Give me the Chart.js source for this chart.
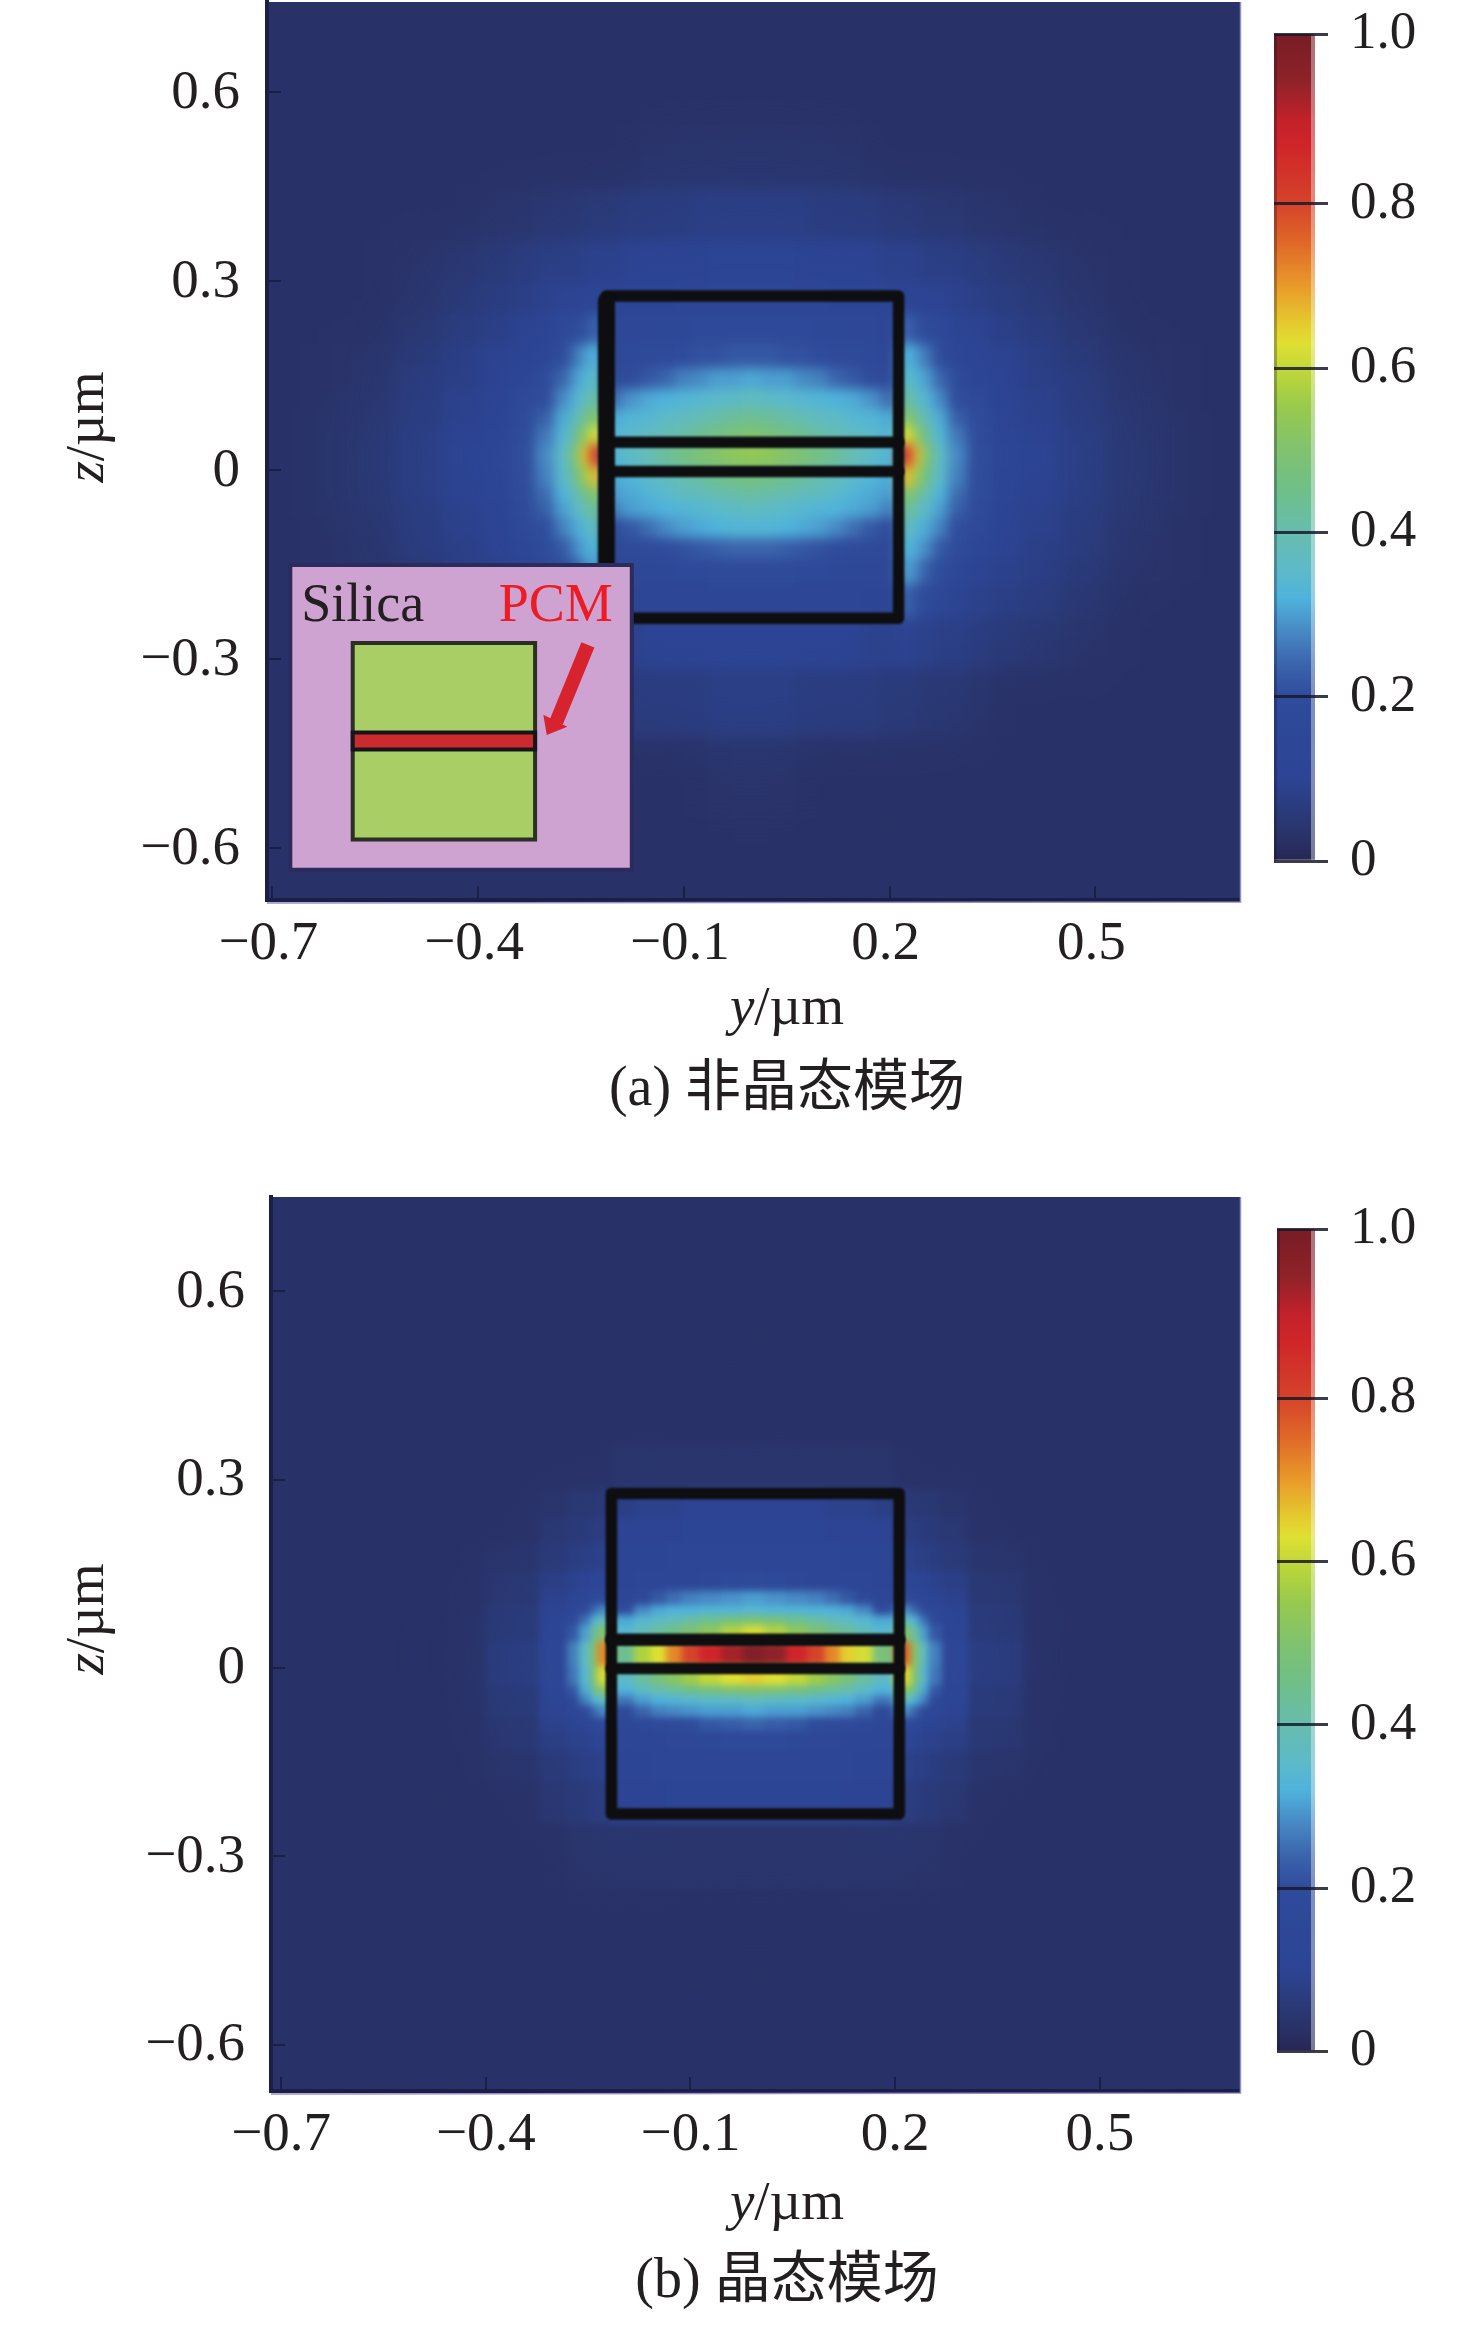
<!DOCTYPE html>
<html><head><meta charset="utf-8">
<style>html,body{margin:0;padding:0;background:#fff}#p{position:relative;width:1476px;height:2325px;overflow:hidden}canvas{position:absolute}</style>
<script src="https://cdn.jsdelivr.net/npm/chart.js@4/dist/chart.umd.js"></script>
</head><body><div id="p">
<canvas id="panelA" width="1476" height="1160" style="left:0;top:0"></canvas>
<canvas id="panelB" width="1476" height="1165" style="left:0;top:1160px"></canvas>
<canvas id="barA" width="235" height="900" style="left:1241px;top:0"></canvas>
<canvas id="barB" width="235" height="1165" style="left:1241px;top:1160px"></canvas>
</div>
<script>
// ---- tick labels ----
const yTicks=[-0.7,-0.4,-0.1,0.2,0.5];
const zTicks=[-0.6,-0.3,0,0.3,0.6];
const barTicks=[0,0.2,0.4,0.6,0.8,1.007];
// ---- colour bar ----
const barValues=[0,.02,.05,.1,.2,.24,.28,.32,.35,.4,.45,.5,.55,.58,.63,.65,.7,.75,.8,.87,.9,.95,1];
const barColors=['#262653','#292f62','#2a3873','#2c4493','#2f4b9b','#3b64ac','#4789c4','#4fb3dc','#5bb9cb','#67bdae','#6fbf8a','#80c26f','#97c94e','#b0d23f','#dfe032','#e4cf2f','#e99a2a','#e06a28','#d5432a','#cf2529','#c4222a','#8f2229','#7a1d25'];
// ---- panel (a): field in percent of maximum, rows top to bottom ----
const aY=[-.66,-.56,-.48,-.42,-.37,-.33,-.30,-.275,-.255,-.24,-.23,-.20,-.175,-.15,-.125,-.10,-.075,-.05,-.025,0,.025,.05,.075,.10,.125,.15,.175,.20,.23,.24,.255,.275,.30,.33,.37,.42,.48,.56,.66];
const aZ=[.71,.60,.49,.40,.32,.27,.22,.175,.143,.11,.08,.055,.02,-.015,-.04,-.063,-.095,-.127,-.16,-.206,-.27,-.365,-.49,-.62];
const a01=[3,3,3,3,3,3,3,3,3,3,3, 3,3,3,3,3,3,3,3,3,3,3,3,3,3,3,3,3, 3,3,3,3,3,3,3,3,3,3,3];
const a02=[3,3,3,3,3,3,3,3,3,3,3, 3,3,3,3,3,3,3,3,3,3,3,3,3,3,3,3,3, 3,3,3,3,3,3,3,3,3,3,3];
const a03=[3,3,3,3,3,3,3,3,3,3,3, 3,3,4,4,4,4,4,4,4,4,4,4,4,4,4,3,3, 3,3,3,3,3,3,3,3,3,3,3];
const a04=[3,3,3,3,4,4,5,5,5,6,6, 6,7,7,7,7,8,8,8,8,8,8,8,7,7,7,7,6, 6,6,5,5,5,4,4,3,3,3,3];
const a05=[3,3,4,5,6,7,8,8,8,9,9, 9,10,10,10,10,10,11,11,11,11,11,10,10,10,10,10,9, 9,9,8,8,8,7,6,5,4,3,3];
const a06=[3,3,4,6,7,8,9,10,10,10,11, 12,12,12,12,13,13,13,13,13,13,13,13,13,12,12,12,12, 11,10,10,10,9,8,7,6,4,3,3];
const a07=[3,3,5,7,8,10,10,15,18,21,24, 14,15,15,16,16,17,17,17,17,17,17,17,16,16,15,15,14, 24,21,18,15,10,10,8,7,5,3,3];
const a08=[3,4,6,8,10,10,11,19,26,30,32, 16,17,18,19,20,21,21,22,22,22,21,21,20,19,18,17,16, 32,30,26,19,11,10,10,8,6,4,3];
const a09=[3,4,7,8,10,11,17,24,30,33,36, 19,20,22,24,27,28,30,30,31,30,30,28,27,24,22,20,19, 36,33,30,24,17,11,10,8,7,4,3];
const a10=[3,4,7,9,10,15,19,28,33,38,42, 25,29,31,32,33,34,35,36,37,36,35,34,33,32,31,29,25, 42,38,33,28,19,15,10,9,7,4,3];
const a11=[3,5,7,9,10,17,23,31,38,44,52, 31,33,34,36,37,39,41,43,44,43,41,39,37,36,34,33,31, 52,44,38,31,23,17,10,9,7,5,3];
const a12=[3,5,8,10,11,18,26,33,43,54,63, 33,35,37,39,41,44,46,48,50,48,46,44,41,39,37,35,33, 63,54,43,33,26,18,11,10,8,5,3];
const a13=[3,5,8,11,12,20,28,36,50,66,85, 33,36,39,43,46,49,51,53,54,53,51,49,46,43,39,36,33, 85,66,50,36,28,20,12,11,8,5,3];
const a14=[3,5,8,10,11,19,27,35,45,56,67, 31,33,35,37,40,42,44,46,47,46,44,42,40,37,35,33,31, 67,56,45,35,27,19,11,10,8,5,3];
const a15=[3,5,8,10,11,18,25,32,39,46,52, 30,31,33,35,37,38,40,41,42,41,40,38,37,35,33,31,30, 52,46,39,32,25,18,11,10,8,5,3];
const a16=[3,5,7,9,10,17,23,30,35,40,44, 27,30,31,32,33,34,35,36,37,36,35,34,33,32,31,30,27, 44,40,35,30,23,17,10,9,7,5,3];
const a17=[3,4,7,9,10,15,20,27,31,34,38, 20,22,25,28,30,31,32,33,33,33,32,31,30,28,25,22,20, 38,34,31,27,20,15,10,9,7,4,3];
const a18=[3,4,7,8,10,13,17,22,28,31,33, 17,18,19,20,21,22,23,24,24,24,23,22,21,20,19,18,17, 33,31,28,22,17,13,10,8,7,4,3];
const a19=[3,4,6,8,9,10,14,18,23,28,30, 15,15,16,16,17,17,18,18,18,18,18,17,17,16,16,15,15, 30,28,23,18,14,10,9,8,6,4,3];
const a20=[3,3,5,7,8,9,10,14,17,21,24, 12,12,13,13,13,13,14,14,14,14,14,13,13,13,13,12,12, 24,21,17,14,10,9,8,7,5,3,3];
const a21=[3,3,4,5,6,7,8,8,9,9,10, 9,9,10,10,10,10,10,10,10,10,10,10,10,10,10,9,9, 10,9,9,8,8,7,6,5,4,3,3];
const a22=[3,3,3,3,3,4,5,5,5,6,6, 6,7,7,7,7,7,8,8,8,8,8,7,7,7,7,7,6, 6,6,5,5,5,4,3,3,3,3,3];
const a23=[3,3,3,3,3,3,3,3,3,3,3, 3,3,3,3,3,3,4,4,4,4,4,3,3,3,3,3,3, 3,3,3,3,3,3,3,3,3,3,3];
const a24=[3,3,3,3,3,3,3,3,3,3,3, 3,3,3,3,3,3,3,3,3,3,3,3,3,3,3,3,3, 3,3,3,3,3,3,3,3,3,3,3];
const aRows=[a01,a02,a03,a04,a05,a06,a07,a08,a09,a10,a11,a12,a13,a14,a15,a16,a17,a18,a19,a20,a21,a22,a23,a24];
// ---- panel (b) ----
const bY=[-.598,-.451,-.349,-.29,-.268,-.253,-.239,-.231,-.195,-.166,-.144,-.122,-.10,-.07,-.038,-.006,.026,.058,.088,.11,.132,.154,.183,.219,.23,.244,.259,.281,.34,.442,.588];
const bZ=[.70,.54,.395,.31,.255,.22,.172,.132,.108,.089,.073,.059,.0215,-.019,-.038,-.054,-.07,-.089,-.115,-.154,-.21,-.29,-.417,-.576];
const b01=[3,3,3,3,3,3,3,3, 3,3,3,3,3,3,3,3,3,3,3,3,3,3,3, 3,3,3,3,3,3,3,3];
const b02=[3,3,3,3,3,3,3,3, 3,3,3,3,3,3,3,3,3,3,3,3,3,3,3, 3,3,3,3,3,3,3,3];
const b03=[3,3,3,3,3,3,3,3, 3,3,3,3,3,3,3,3,3,3,3,3,3,3,3, 3,3,3,3,3,3,3,3];
const b04=[3,3,3,3,3,3,3,3, 4,4,4,4,4,4,4,4,4,4,4,4,4,4,4, 3,3,3,3,3,3,3,3];
const b05=[3,3,3,4,5,5,5,6, 8,9,9,9,10,10,10,10,10,10,10,9,9,9,8, 6,5,5,5,4,3,3,3];
const b06=[3,3,3,5,6,6,7,7, 10,10,10,10,11,11,11,11,11,11,11,10,10,10,10, 7,7,6,6,5,3,3,3];
const b07=[3,3,4,6,7,8,8,9, 11,12,12,13,13,13,13,13,13,13,13,13,12,12,11, 9,8,8,7,6,4,3,3];
const b08=[3,3,5,8,9,10,11,12, 12,13,13,14,14,15,17,18,17,15,14,14,13,13,12, 12,11,10,9,8,5,3,3];
const b09=[3,3,5,9,11,13,15,18, 14,17,22,25,27,28,29,30,29,28,27,25,22,17,14, 18,15,13,11,9,5,3,3];
const b10=[3,3,6,10,14,18,24,28, 20,28,31,32,32,33,33,34,33,33,32,32,31,28,20, 28,24,18,14,10,6,3,3];
const b11=[3,3,6,11,17,25,32,37, 31,34,36,38,41,44,47,48,47,44,41,38,36,34,31, 37,32,25,17,11,6,3,3];
const b12=[3,3,6,12,22,30,42,50, 34,38,42,45,49,53,58,62,58,53,49,45,42,38,34, 50,42,30,22,12,6,3,3];
const b13=[3,3,7,14,27,36,50,72, 44,58,63,72,80,87,93,98,95,87,80,72,65,62,48, 76,52,36,27,14,7,3,3];
const b14=[3,3,7,13,26,34,48,62, 36,42,48,52,56,60,63,65,63,60,56,52,48,42,36, 64,50,34,26,13,7,3,3];
const b15=[3,3,6,12,22,31,43,52, 32,36,40,42,45,47,49,50,49,47,45,42,40,36,32, 52,43,31,22,12,6,3,3];
const b16=[3,3,6,11,17,27,32,37, 26,30,32,33,34,35,36,37,36,35,34,33,32,30,26, 37,32,27,17,11,6,3,3];
const b17=[3,3,6,10,14,18,24,28, 19,24,27,28,29,30,30,31,30,30,29,28,27,24,19, 28,24,18,14,10,6,3,3];
const b18=[3,3,5,9,11,12,16,18, 15,16,18,19,20,22,23,24,23,22,20,19,18,16,15, 18,16,12,11,9,5,3,3];
const b19=[3,3,5,8,9,9,11,12, 13,14,14,15,15,16,17,17,17,16,15,15,14,14,13, 12,11,9,9,8,5,3,3];
const b20=[3,3,4,6,7,8,8,9, 12,12,13,13,13,14,14,14,14,14,13,13,13,12,12, 9,8,8,7,6,4,3,3];
const b21=[3,3,3,5,6,6,7,7, 10,10,10,11,11,11,11,11,11,11,11,11,10,10,10, 7,7,6,6,5,3,3,3];
const b22=[3,3,3,3,4,4,4,4, 4,4,4,4,4,4,4,4,4,4,4,4,4,4,4, 4,4,4,4,3,3,3,3];
const b23=[3,3,3,3,3,3,3,3, 3,3,3,3,3,3,3,3,3,3,3,3,3,3,3, 3,3,3,3,3,3,3,3];
const b24=[3,3,3,3,3,3,3,3, 3,3,3,3,3,3,3,3,3,3,3,3,3,3,3, 3,3,3,3,3,3,3,3];
const bRows=[b01,b02,b03,b04,b05,b06,b07,b08,b09,b10,b11,b12,b13,b14,b15,b16,b17,b18,b19,b20,b21,b22,b23,b24];
// ---- waveguide outlines in µm ----
const aBox=[[-.213,.276],[.213,.276],[.213,-.2357],[-.213,-.2357],[-.213,.276]];
const aWall=[[-.213,.268],[-.213,-.228]];
const aBar1=[[-.213,.0437],[.213,.0437]];
const aBar2=[[-.213,-.0024],[.213,-.0024]];
const bBox=[[-.216,.278],[.206,.278],[.206,-.2325],[-.216,-.2325],[-.216,.278]];
const bBar1=[[-.216,.045],[.206,.045]];
const bBar2=[[-.216,-.001],[.206,-.001]];

const SERIF='"Liberation Serif","Noto Sans CJK SC",serif';
const INK='#231f20';
const hex=c=>[parseInt(c.slice(1,3),16),parseInt(c.slice(3,5),16),parseInt(c.slice(5,7),16)];
function colorOf(v){
  let i=0;while(i<barValues.length-2&&v>barValues[i+1])i++;
  const t=Math.min(1,Math.max(0,(v-barValues[i])/(barValues[i+1]-barValues[i])));
  const a=hex(barColors[i]),b=hex(barColors[i+1]);
  return 'rgb('+a.map((q,k)=>Math.round(q+(b[k]-q)*t)).join(',')+')';
}
function buildCells(xs,zs,rows,xr,zr){
  const out=[];
  rows.forEach((row,i)=>row.forEach((p,j)=>{
    out.push({x:xs[j],y:zs[i],v:p/100,
      x0:j?(xs[j-1]+xs[j])/2:xr[0],x1:j<xs.length-1?(xs[j]+xs[j+1])/2:xr[1],
      y0:i?(zs[i-1]+zs[i])/2:zr[1],y1:i<zs.length-1?(zs[i]+zs[i+1])/2:zr[0]});
  }));
  return out;
}
function cellStyle(ctx){
  const d=ctx.raw; if(!d) return 'rect';
  const sx=ctx.chart.scales.x,sy=ctx.chart.scales.y;
  const px=sx.getPixelForValue(d.x),py=sy.getPixelForValue(d.y);
  const dl=Math.ceil(px-sx.getPixelForValue(d.x0))+1,dr=Math.ceil(sx.getPixelForValue(d.x1)-px)+1;
  const du=Math.ceil(py-sy.getPixelForValue(d.y0))+1,dd=Math.ceil(sy.getPixelForValue(d.y1)-py)+1;
  const hw=Math.max(dl,dr),hh=Math.max(du,dd);
  const c=document.createElement('canvas');c.width=2*hw;c.height=2*hh;
  const g=c.getContext('2d');g.fillStyle=colorOf(d.v);g.fillRect(hw-dl,hh-du,dl+dr,du+dd);
  return c;
}
const outline=(pts,w,order)=>({type:'scatter',showLine:true,data:pts.map(p=>({x:p[0],y:p[1]})),borderColor:'#0e0e11',backgroundColor:'#0e0e11',borderWidth:w,pointRadius:0,borderJoinStyle:'round',borderCapStyle:'round',order:order,isOutline:true});

const smoothPlugin={id:'smooth',
  beforeDatasetDraw(chart,args){const d=chart.data.datasets[args.index];if(d.isOutline)chart.ctx.filter='blur(1.2px)';},
  afterDatasetDraw(chart,args){
    const d=chart.data.datasets[args.index];
    if(d.isOutline){chart.ctx.filter='none';return;}
    if(!d.isField)return;
    const cv=chart.canvas,a=chart.chartArea,W=cv.width,H=cv.height;
    const mk=()=>{const c=document.createElement('canvas');c.width=W;c.height=H;return c;};
    const base=mk(),bg=base.getContext('2d');
    bg.fillStyle=colorOf(.03);bg.fillRect(0,0,W,H);
    bg.drawImage(cv,a.left,a.top,a.width,a.height,a.left,a.top,a.width,a.height);
    const far=mk(),fg=far.getContext('2d');fg.filter='blur(26px)';fg.drawImage(base,0,0);
    const near=mk(),ng=near.getContext('2d');ng.filter='blur('+d.nearBlur+'px)';ng.drawImage(base,0,0);ng.filter='none';
    ng.globalCompositeOperation='destination-in';
    const cx=chart.scales.x.getPixelForValue(0),cy=chart.scales.y.getPixelForValue(.02);
    ng.save();ng.translate(cx,cy);ng.scale(1,.95);
    const gr=ng.createRadialGradient(0,0,200,0,0,d.nearRadius);gr.addColorStop(0,'rgba(0,0,0,1)');gr.addColorStop(1,'rgba(0,0,0,0)');
    ng.fillStyle=gr;ng.fillRect(-W,-H,2*W,2*H);ng.restore();
    const c=chart.ctx;c.save();c.beginPath();c.rect(a.left,a.top,a.width,a.height);c.clip();
    c.drawImage(far,0,0);c.drawImage(near,0,0);c.restore();
  }
};
function mixed(c,parts,cx,cy,rot){
  c.save();c.translate(cx,cy);c.rotate(rot||0);c.fillStyle=INK;c.textBaseline='alphabetic';c.textAlign='left';
  let w=0;parts.forEach(p=>{c.font=p[1];w+=c.measureText(p[0]).width;});
  let x=-w/2;parts.forEach(p=>{c.font=p[1];c.fillText(p[0],x,0);x+=c.measureText(p[0]).width;});
  c.restore();
}
const insetPlugin={id:'inset',afterDatasetsDraw(chart,_,o){
  if(!o.show)return;
  const c=chart.ctx,X=v=>chart.scales.x.getPixelForValue(v),Y=v=>chart.scales.y.getPixelForValue(v);
  const rect=(x0,x1,z0,z1,fill,stroke,w)=>{c.beginPath();c.rect(X(x0),Y(z0),X(x1)-X(x0),Y(z1)-Y(z0));c.fillStyle=fill;c.fill();if(stroke){c.strokeStyle=stroke;c.lineWidth=w;c.stroke();}};
  c.save();
  rect(-.674,-.176,-.151,-.635,'#cea3d1','#2c2c5c',4);
  rect(-.583,-.317,-.275,-.587,'#a9ce66','#2b2f24',4);
  rect(-.583,-.317,-.417,-.444,'#cb2a2e','#16161a',4);
  c.strokeStyle='#d6232d';c.lineWidth=14;c.lineCap='butt';c.beginPath();c.moveTo(X(-.240),Y(-.278));c.lineTo(X(-.286),Y(-.40));c.stroke();
  c.fillStyle='#d6232d';c.beginPath();c.moveTo(X(-.305),Y(-.389));c.lineTo(X(-.270),Y(-.408));c.lineTo(X(-.30),Y(-.421));c.closePath();c.fill();
  c.textBaseline='alphabetic';c.textAlign='left';c.font='54px '+SERIF;
  c.fillStyle=INK;c.fillText('Silica',X(-.658),Y(-.2405));
  c.fillStyle='#ed1c24';c.fillText('PCM',X(-.370),Y(-.2405));
  c.restore();
}};
const textPlugin={id:'labels',afterDraw(chart,_,o){
  const c=chart.ctx,R='55px '+SERIF,I='italic 55px '+SERIF;
  mixed(c,[['y',I],['/µm',R]],787,o.xTitleY);
  mixed(c,[['z',I],['/µm',R]],103,o.zTitleY,-Math.PI/2);
  mixed(c,[[o.caption,'56px '+SERIF]],787,o.captionY);
  const a=chart.chartArea;c.save();c.strokeStyle='#8f90c8';c.lineWidth=1.5;c.beginPath();c.moveTo(a.right+.5,a.top);c.lineTo(a.right+.5,a.bottom+2);c.lineTo(a.left,a.bottom+3);c.stroke();c.restore();
}};
const fmt=v=>v===0?'0':(v<0?'\u2212':'')+Math.abs(v).toFixed(1);
const noPad=s=>{s.paddingLeft=s.paddingRight=s.paddingTop=s.paddingBottom=0;};
function axis(ticks,range,extra){
  return Object.assign({type:'linear',min:range[0],max:range[1],
    afterBuildTicks(s){s.ticks=ticks.map(v=>({value:v}));},
    grid:{drawOnChartArea:false,drawTicks:true,tickLength:-14,color:'rgba(22,26,62,.75)',lineWidth:2,z:1},
    border:{display:true,color:'#1b1f48',width:4,z:1}},extra);
}
function panel(id,cfg){
  new Chart(document.getElementById(id),{
    type:'scatter',
    data:{datasets:cfg.outlines.concat([{data:buildCells(cfg.xs,cfg.zs,cfg.rows,cfg.xRange,cfg.zRange),order:10,isField:true,nearBlur:cfg.nearBlur,nearRadius:cfg.nearRadius,pointRadius:1,pointHoverRadius:1,pointBorderWidth:0,pointStyle:cellStyle}])},
    options:{responsive:false,animation:false,devicePixelRatio:1,
      layout:{padding:{top:cfg.top,right:1476-cfg.right,left:0,bottom:0}},
      plugins:{legend:{display:false},tooltip:{enabled:false},
        inset:{show:cfg.inset},
        labels:{xTitleY:cfg.xTitleY,zTitleY:cfg.zTitleY,caption:cfg.caption,captionY:cfg.captionY}},
      scales:{
        x:axis(yTicks,cfg.xRange,{position:'bottom',afterFit(s){s.height=cfg.h-cfg.bottom;noPad(s);},
          ticks:{autoSkip:false,maxRotation:0,minRotation:0,padding:cfg.xPad,labelOffset:cfg.xShift,color:INK,font:{family:SERIF,size:55},callback:fmt}}),
        y:axis(zTicks,cfg.zRange,{position:'left',afterFit(s){s.width=cfg.left;noPad(s);},
          ticks:{autoSkip:false,padding:cfg.yPad,labelOffset:cfg.yShift,color:INK,font:{family:SERIF,size:55},callback:fmt}})
      }},
    plugins:[smoothPlugin,insetPlugin,textPlugin]
  });
}
function colorBar(id,top,bottom,H,left){
  new Chart(document.getElementById(id),{
    type:'bar',
    data:{labels:['E'],datasets:[{data:[1.007],barPercentage:1,categoryPercentage:1,
      backgroundColor(ctx){
        const s=ctx.chart.scales.y;if(!s||!ctx.chart.chartArea)return barColors[0];
        const g=ctx.chart.ctx.createLinearGradient(0,s.getPixelForValue(0),0,s.getPixelForValue(1));
        barValues.forEach((v,i)=>g.addColorStop(v,barColors[i]));return g;}}]},
    options:{responsive:false,animation:false,devicePixelRatio:1,
      layout:{padding:{top:top,bottom:H-bottom,left:left,right:0}},
      plugins:{legend:{display:false},tooltip:{enabled:false}},
      scales:{
        x:{display:false},
        y:{position:'right',min:0,max:1.007,afterBuildTicks(s){s.ticks=barTicks.map(v=>({value:v}));},afterFit(s){s.width=235-74;noPad(s);},
          grid:{drawOnChartArea:true,drawTicks:true,tickLength:13,color:'rgba(25,25,45,.85)',lineWidth:3,z:1},
          border:{display:false},
          ticks:{padding:22,labelOffset:0,color:INK,font:{family:SERIF,size:53},callback:fmt}}
      }},
    plugins:[{id:'edge',afterDatasetsDraw(ch){const a=ch.chartArea,c=ch.ctx;c.save();c.fillStyle='rgba(255,255,255,.38)';c.fillRect(a.right-4,a.top,4,a.height);c.fillStyle='rgba(15,15,40,.28)';c.fillRect(a.left,a.top,3,a.height);c.restore();}}]
  });
}
panel('panelA',{xs:aY,zs:aZ,rows:aRows,xRange:[-.708,.711],zRange:[-.683,.743],top:2,bottom:900,left:267,right:1240,h:1160,
  outlines:[outline(aBox,11.5,3),outline(aWall,17,2),outline(aBar1,11.5,1),outline(aBar2,11.5,1)],
  nearBlur:6,nearRadius:420,inset:true,xPad:26,yPad:41,xShift:-4,yShift:2,xTitleY:1024,zTitleY:427,caption:'(a) 非晶态模场',captionY:1105});
panel('panelB',{xs:bY,zs:bZ,rows:bRows,xRange:[-.715,.7056],zRange:[-.6736,.75],top:37,bottom:931,left:271,right:1240,h:1165,
  outlines:[outline(bBox,11.5,3),outline(bBar1,12.5,1),outline(bBar2,11.5,1)],
  nearBlur:3.5,nearRadius:360,inset:false,xPad:26,yPad:40,xShift:0,yShift:1,xTitleY:1059,zTitleY:459,caption:'(b) 晶态模场',captionY:1137});
colorBar('barA',34,861,900,33);
colorBar('barB',69,891.5,1165,36);
</script></body></html>
